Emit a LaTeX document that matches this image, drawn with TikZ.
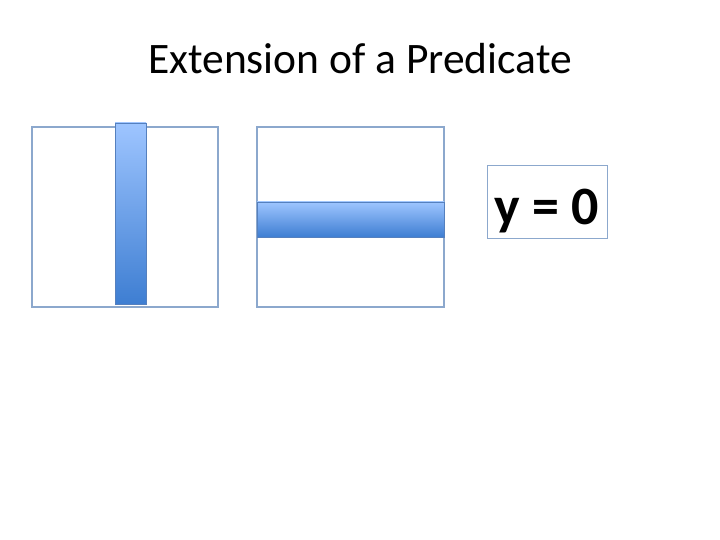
\documentclass[tikz,border=0pt]{standalone}
\usepackage{fontspec}
\setmainfont{Carlito}
\definecolor{FrameClr}{RGB}{140,168,205}
\definecolor{BarTopClr}{RGB}{158,197,255}
\definecolor{BarBotClr}{RGB}{62,126,210}
\definecolor{BarEdgeClr}{RGB}{85,128,190}

\begin{document}
\begin{tikzpicture}[x=1pt,y=1pt,
  frame/.style={draw=FrameClr,line width=1.3pt},
  bar/.style={draw=BarEdgeClr,line width=0.8pt,top color=BarTopClr,bottom color=BarBotClr}]
\useasboundingbox (0,0) rectangle (720,540);

% Corners of the two squares and the label box.
\coordinate (A1) at (32,233);  \coordinate (B1) at (218,413);
\coordinate (A2) at (257,233); \coordinate (B2) at (444,413);
\coordinate (P) at (487,302);  \coordinate (Q) at (607,375);

% Corners of the two bars.
\coordinate (V1) at (115,236); \coordinate (V2) at (146,417);
\coordinate (H1) at (257,303); \coordinate (H2) at (444,338);

% Title.
\node[anchor=base,font=\fontsize{43.5}{48}\selectfont] (title) at (360,466) {Extension of a Predicate};

% Draw the squares.
\draw[frame] (A1) rectangle (B1);
\draw[frame] (A2) rectangle (B2);

% Draw the bars.
\draw[bar] (V1) rectangle (V2);
\draw[bar] (H1) rectangle (H2);

% Draw the label box.
\draw[draw=FrameClr,line width=0.9pt] (P) rectangle (Q);
\node[anchor=base,font=\fontsize{54}{60}\selectfont\bfseries] (lbl) at (547,315) {y = 0};

\end{tikzpicture}
\end{document}
